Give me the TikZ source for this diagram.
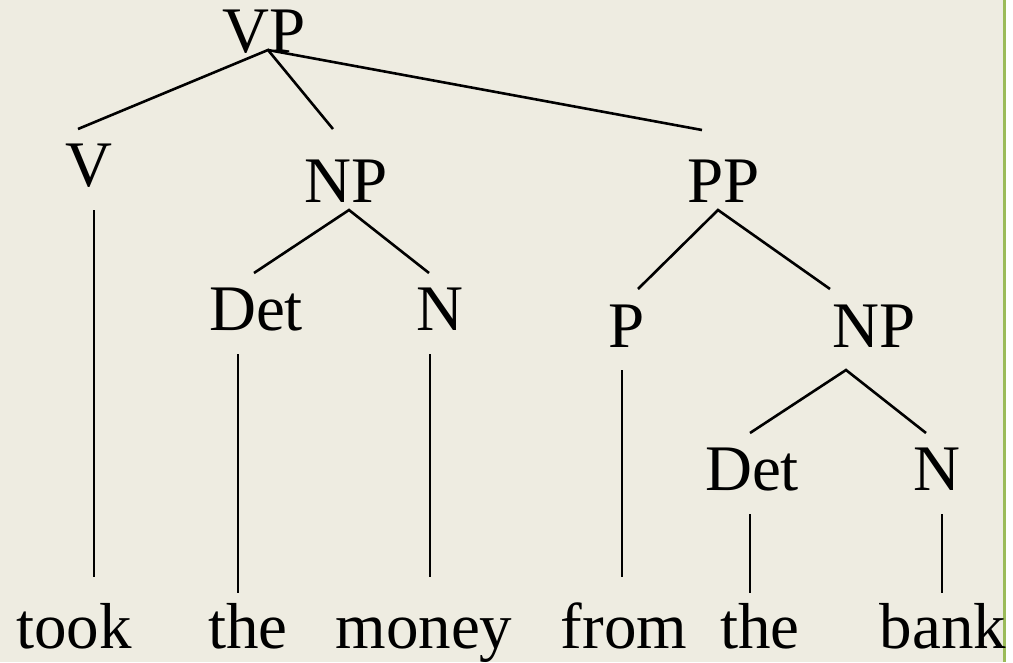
\documentclass[tikz,border=0pt]{standalone}
\usepackage{fontspec}
\setmainfont{Liberation Serif}
\definecolor{bgc}{HTML}{EEECE1}
\definecolor{edgegreen}{HTML}{9BBB59}
\begin{document}
\begin{tikzpicture}[x=1pt,y=-1pt,
  lab/.style={anchor=base,inner sep=0pt,font=\fontsize{65}{78}\selectfont},
  edge/.style={line width=2.6pt,black}]
\useasboundingbox (0,0) rectangle (1013,662);
\fill[white] (0,0) rectangle (1013,662);
\fill[bgc] (0,0) rectangle (1003,662);
\fill[edgegreen] (1002.5,0) rectangle (1005.5,662);
% labels
\node[lab] (VP) at (264,52) {VP};
\node[lab] (V) at (89,186) {V};
\node[lab] (NP1) at (346,202) {NP};
\node[lab] (PP) at (724,202) {PP};
\node[lab] (Det1) at (256,330) {Det};
\node[lab] (N1) at (440,330) {N};
\node[lab] (P) at (627,347) {P};
\node[lab] (NP2) at (874,347) {NP};
\node[lab] (Det2) at (752,490) {Det};
\node[lab] (N2) at (937,490) {N};
\node[lab] (w1) at (74,648) {took};
\node[lab] (w2) at (248,648) {the};
\node[lab] (w3) at (424,648) {money};
\node[lab] (w4) at (624,648) {from};
\node[lab] (w5) at (760,648) {the};
\node[lab] (w6) at (943,648) {bank};
% connector end points
\coordinate (VPb) at (268,50);
\coordinate (Vt) at (78,129);
\coordinate (NP1t) at (333,129);
\coordinate (PPt) at (702,130);
\coordinate (Vb) at (94,210);
\coordinate (w1t) at (94,577);
\coordinate (NP1b) at (349,210);
\coordinate (Det1t) at (254,273);
\coordinate (N1t) at (429,273);
\coordinate (Det1b) at (238,354);
\coordinate (w2t) at (238,593);
\coordinate (N1b) at (430,354);
\coordinate (w3t) at (430,577);
\coordinate (PPb) at (718,210);
\coordinate (Pt) at (638,289);
\coordinate (NP2t) at (830,289);
\coordinate (Pb) at (622,370);
\coordinate (w4t) at (622,577);
\coordinate (NP2b) at (846,370);
\coordinate (Det2t) at (750,433);
\coordinate (N2t) at (926,433);
\coordinate (Det2b) at (750,514);
\coordinate (w5t) at (750,593);
\coordinate (N2b) at (942,514);
\coordinate (w6t) at (942,593);
% connectors
\draw[edge] (Vt) -- (VPb) -- (NP1t);
\draw[edge] (VPb) -- (PPt);
\draw[edge] (Vb) -- (w1t);
\draw[edge] (Det1t) -- (NP1b) -- (N1t);
\draw[edge] (Det1b) -- (w2t);
\draw[edge] (N1b) -- (w3t);
\draw[edge] (Pt) -- (PPb) -- (NP2t);
\draw[edge] (Pb) -- (w4t);
\draw[edge] (Det2t) -- (NP2b) -- (N2t);
\draw[edge] (Det2b) -- (w5t);
\draw[edge] (N2b) -- (w6t);
\end{tikzpicture}
\end{document}
